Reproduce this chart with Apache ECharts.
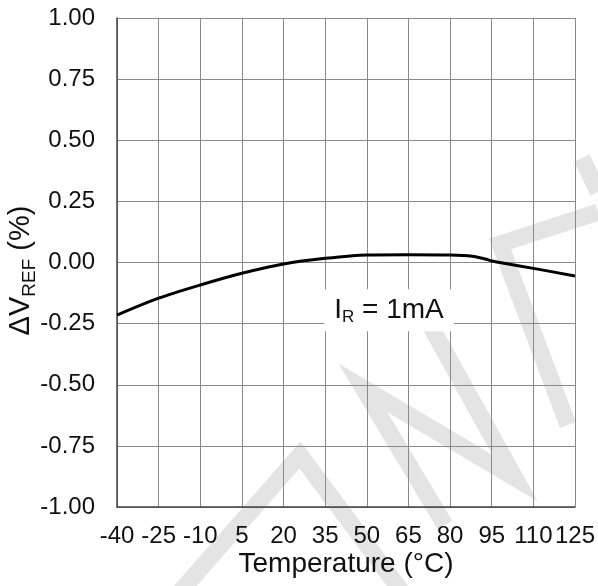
<!DOCTYPE html>
<html>
<head>
<meta charset="utf-8">
<script src="https://cdn.jsdelivr.net/npm/echarts@6/dist/echarts.min.js"></script>
<style>
  html, body { margin: 0; padding: 0; background: #fff; }
  #chart { width: 598px; height: 586px; }
</style>
</head>
<body>
<div id="chart"></div>
<script>
// temperature (degC) and reference voltage change (%)
const temps = [-40, -25, -10, 5, 20, 35, 50, 65, 80, 88, 93, 95, 100, 110, 125]
const dvref = [-0.215, -0.146, -0.092, -0.044, -0.006, 0.017, 0.031, 0.032, 0.031, 0.026, 0.013, 0.006, -0.004, -0.024, -0.055]

const xTicks = { min: -40, max: 125, step: 15 }
const yTicks = { min: -1, max: 1, step: 0.25 }

// where the "IR = 1mA" note sits, in data units
const noteAt = [58, -0.195]

const FONT = 'Liberation Sans, Arial, sans-serif'

// faint diagonal watermark strokes (decoration only)
const watermark = [
  [[180, 592], [300, 455], [402, 592]],
  [[445, 525], [363, 388], [515, 478], [430, 325]],
  [[598, 212], [500, 244], [568, 425]],
  [[582, 158], [598, 192]]
]

const chart = echarts.init(document.getElementById('chart'))

chart.setOption({
  animation: false,
  backgroundColor: '#fff',
  grid: { left: 117, right: 23, top: 18, bottom: 79, outerBoundsMode: 'none', containLabel: false },
  xAxis: {
    type: 'value',
    min: xTicks.min,
    max: xTicks.max,
    interval: xTicks.step,
    name: 'Temperature (°C)',
    nameLocation: 'middle',
    nameGap: 43,
    nameMoveOverlap: false,
    nameTextStyle: { fontFamily: FONT, fontSize: 28, color: '#111' },
    axisLine: { show: true, onZero: false, lineStyle: { color: '#444', width: 1.5 } },
    axisTick: { show: false },
    axisLabel: { fontFamily: FONT, fontSize: 24, color: '#111', margin: 17 },
    splitLine: { show: true, lineStyle: { color: '#8a8a8a', width: 1 } }
  },
  yAxis: {
    type: 'value',
    min: yTicks.min,
    max: yTicks.max,
    interval: yTicks.step,
    name: '{d|ΔV}{s|REF}{d| (%)}',
    nameLocation: 'middle',
    nameRotate: 90,
    nameGap: 78,
    nameMoveOverlap: false,
    nameTextStyle: {
      padding: [0, 16, 0, 0],
      rich: {
        d: { fontFamily: FONT, fontSize: 29, color: '#111', lineHeight: 36, verticalAlign: 'middle' },
        s: { fontFamily: FONT, fontSize: 19, color: '#111', lineHeight: 17, verticalAlign: 'bottom' }
      }
    },
    axisLine: { show: true, onZero: false, lineStyle: { color: '#444', width: 1.5 } },
    axisTick: { show: false },
    axisLabel: {
      fontFamily: FONT, fontSize: 24, color: '#111', margin: 22,
      formatter: v => v.toFixed(2)
    },
    splitLine: { show: true, lineStyle: { color: '#8a8a8a', width: 1 } }
  },
  graphic: watermark.map(pts => ({
    type: 'polyline',
    z: -10,
    silent: true,
    shape: { points: pts },
    style: { stroke: '#e4e4e4', lineWidth: 17, fill: null, lineJoin: 'miter' }
  })),
  series: [
    {
      type: 'line',
      data: temps.map((t, i) => [t, dvref[i]]),
      smooth: 0.3,
      symbol: 'none',
      lineStyle: { color: '#000', width: 3 },
      z: 5
    }
  ]
})

// note label with a white box that hides the grid behind it
const p = chart.convertToPixel({ gridIndex: 0 }, noteAt)
chart.setOption({
  graphic: watermark.map(() => ({})).concat([{
    type: 'text',
    z: 100,
    x: p[0],
    y: p[1],
    style: {
      text: '{i|I}{r|R}{i| = 1mA}',
      align: 'center',
      verticalAlign: 'middle',
      backgroundColor: '#fff',
      padding: [5, 10, 5, 10],
      rich: {
        i: { fontFamily: FONT, fontSize: 28, fill: '#111', lineHeight: 32, verticalAlign: 'middle' },
        r: { fontFamily: FONT, fontSize: 17, fill: '#111', lineHeight: 14, verticalAlign: 'bottom' }
      }
    }
  }])
})
</script>
</body>
</html>
